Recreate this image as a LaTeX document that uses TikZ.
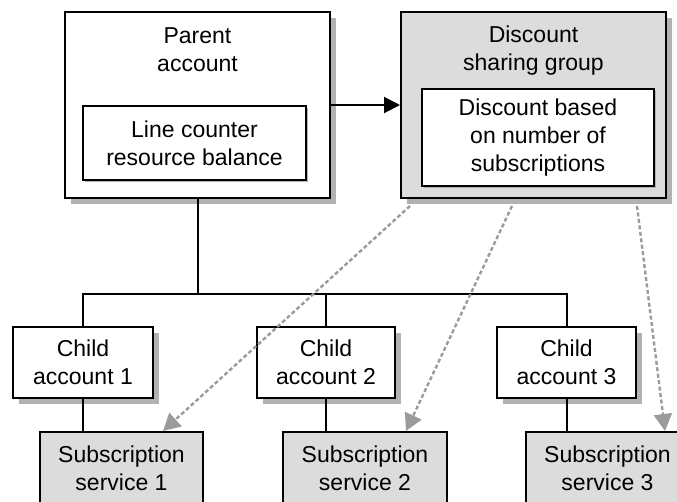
\documentclass[tikz,border=0pt]{standalone}
\usepackage{fontspec}
\setmainfont{Liberation Sans}
\usetikzlibrary{arrows.meta,positioning}
\definecolor{boxgray}{RGB}{220,220,220}
\definecolor{shadegray}{RGB}{178,178,178}
\definecolor{sharegray}{RGB}{155,155,155}
\tikzset{
  shade box/.style={preaction={fill=shadegray, transform canvas={xshift=#1, yshift=-#1}}},
  outerbox/.style={draw, line width=2pt, fill=white, minimum width=265pt, minimum height=186pt,
    shade box=6pt},
  innerbox/.style={draw, line width=1.6pt, fill=white, align=center, inner sep=0pt, shade box=1.5pt},
  childbox/.style={draw, line width=2pt, fill=white, align=center, inner sep=0pt, minimum height=71pt,
    shade box=6pt},
  servicebox/.style={draw, line width=2pt, fill=boxgray, align=center, inner sep=0pt,
    minimum width=163pt, minimum height=73pt},
  link/.style={line width=2pt},
  feed/.style={line width=2pt, -{Triangle[length=16pt,width=16pt]}},
  share/.style={draw=sharegray, line width=2.4pt, dash pattern=on 4pt off 2.5pt,
    -{Triangle[length=17pt,width=18pt,fill=sharegray]}},
}
\begin{document}
\begin{tikzpicture}[x=1pt, y=-1pt, font=\fontsize{23}{28}\selectfont]
  \useasboundingbox (0,0) rectangle (677,501);

  % Parent account and its balance
  \node[outerbox] (parent) at (197.5,105) {};
  \node[align=center] (parenttitle) at (197.5,50) {Parent\\account};
  \node[innerbox, minimum width=223pt, minimum height=74pt] (balance) at (194.5,143)
    {Line counter\\resource balance};

  % Discount sharing group
  \node[outerbox, fill=boxgray] (group) at (533.5,105) {};
  \node[align=center] (grouptitle) at (533.5,51) {Discount\\sharing group};
  \node[innerbox, minimum width=232pt, minimum height=97pt] (discount) at (538,137.5)
    {Discount based\\on number of\\subscriptions};

  \draw[feed] (parent.east) -- (group.west);

  % Child accounts
  \node[childbox, minimum width=140pt] (child1) at (83,362.5) {Child\\account 1};
  \node[childbox, minimum width=138pt] (child2) at (326,362.5) {Child\\account 2};
  \node[childbox, minimum width=139pt] (child3) at (566.5,362.5) {Child\\account 3};

  % Subscription services
  \node[servicebox] (sub1) at (121.5,468.5) {Subscription\\service 1};
  \node[servicebox, minimum width=164pt] (sub2) at (365,468.5) {Subscription\\service 2};
  \node[servicebox] (sub3) at (607.5,468.5) {Subscription\\service 3};

  % Hierarchy lines
  \coordinate (bus) at (197.5,294);
  \draw[link] (parent.south) -- (bus);
  \draw[link] (child1.north) |- (bus) -| (child3.north);
  \draw[link] (child2.north) -- (child2.north |- bus);
  \draw[link] (child1.south) -- (child1.south |- sub1.north);
  \draw[link] (child2.south) -- (child2.south |- sub2.north);
  \draw[link] (child3.south) -- (child3.south |- sub3.north);

  % Discount applied to each subscription
  \draw[share] ([xshift=-123.5pt,yshift=-7pt]group.south) -- ([xshift=41.5pt]sub1.north);
  \draw[share] ([xshift=-21.5pt,yshift=-7pt]group.south) -- ([xshift=41pt]sub2.north);
  \draw[share] ([xshift=103.5pt,yshift=-7pt]group.south) -- ([xshift=57.5pt]sub3.north);
\end{tikzpicture}
\end{document}
